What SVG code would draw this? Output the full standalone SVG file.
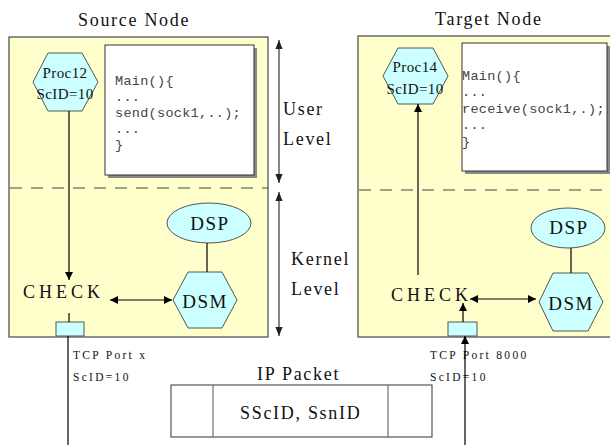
<svg xmlns="http://www.w3.org/2000/svg" width="610" height="445" viewBox="0 0 610 445">
  <defs>
    <marker id="arr" viewBox="0 0 10 10" refX="10" refY="5" markerWidth="8" markerHeight="8" markerUnits="userSpaceOnUse" orient="auto-start-reverse">
      <path d="M0,0 L10,5 L0,10 z" fill="#000"/>
    </marker>
    <marker id="arrGray" viewBox="0 0 10 10" refX="10" refY="5" markerWidth="9" markerHeight="9" markerUnits="userSpaceOnUse" orient="auto-start-reverse">
      <path d="M0,1 L10,5 L0,9 z" fill="#222"/>
    </marker>
  </defs>
  <style>
    .node { fill: #ffffcc; stroke: #555; stroke-width: 1.3; }
    .cyan { fill: #ccffff; stroke: #555; stroke-width: 1; }
    .code { fill: #fff; stroke: #333; stroke-width: 1; }
    .shadow { fill: #888; }
    .dash { stroke: #444; stroke-width: 1.2; stroke-dasharray: 12 9; fill: none; }
    .edge { stroke: #000; stroke-width: 1.2; fill: none; }
    .lvl { stroke: #444; stroke-width: 1.3; fill: none; }
    .serif { font-family: "Liberation Serif", "Times New Roman", serif; fill: #111; }
    .title { font-size: 18px; letter-spacing: 1.7px; }
    .proc { font-size: 15px; letter-spacing: 0.4px; text-anchor: middle; }
    .big { font-size: 19px; letter-spacing: 1.5px; text-anchor: middle; }
    .check { font-size: 18px; letter-spacing: 4px; }
    .small { font-size: 11.5px; letter-spacing: 2.3px; }
    .mono { font-family: "Liberation Mono", "Courier New", monospace; font-size: 13.5px; letter-spacing: 0.3px; fill: #444; }
  </style>

  <!-- headings -->
  <text class="serif title" x="78" y="26">Source Node</text>
  <text class="serif title" x="435" y="25">Target Node</text>

  <!-- source node -->
  <g id="source-node">
    <rect class="node" x="9" y="37" width="259" height="300"/>
    <line class="dash" x1="10" y1="188" x2="268" y2="188"/>
  </g>

  <!-- target node -->
  <g id="target-node">
    <rect class="node" x="358" y="36" width="260" height="301"/>
    <line class="dash" x1="359" y1="190" x2="610" y2="190"/>
  </g>

  <g id="proc12">
    <polygon class="cyan" points="48,53 82,53 98,82 82,111 48,111 33,82"/>
    <text class="serif proc" x="65" y="78">Proc12</text>
    <text class="serif proc" x="65" y="99">ScID=10</text>
  </g>

  <g id="proc14">
    <polygon class="cyan" points="398,48 433,48 448,76 433,104 398,104 383,76"/>
    <text class="serif proc" x="415" y="72">Proc14</text>
    <text class="serif proc" x="415" y="94">ScID=10</text>
  </g>

  <g id="source-code">
    <rect class="shadow" x="108" y="48" width="149" height="130"/>
    <rect class="code" x="105" y="45" width="149" height="130"/>
    <text class="mono" x="115" y="85">Main(){</text>
    <text class="mono" x="115" y="101">...</text>
    <text class="mono" x="115" y="117">send(sock1,..);</text>
    <text class="mono" x="115" y="133">...</text>
    <text class="mono" x="115" y="149">}</text>
  </g>

  <g id="target-code">
    <rect class="shadow" x="465" y="46" width="145" height="128"/>
    <rect class="code" x="462" y="43" width="145" height="128"/>
    <text class="mono" x="462" y="80">Main(){</text>
    <text class="mono" x="462" y="96">...</text>
    <text class="mono" x="462" y="113">receive(sock1,.);</text>
    <text class="mono" x="462" y="129">...</text>
    <text class="mono" x="462" y="146">}</text>
  </g>

  <g id="source-dsp">
    <ellipse class="cyan" cx="209" cy="223" rx="42" ry="20"/>
    <text class="serif big" x="210" y="230">DSP</text>
  </g>
  <g id="source-dsm">
    <polygon class="cyan" points="188,272 222,272 237,300 222,328 188,328 173,300"/>
    <text class="serif big" x="205" y="308">DSM</text>
  </g>
  <g id="target-dsp">
    <ellipse class="cyan" cx="568" cy="228" rx="37" ry="20"/>
    <text class="serif big" x="569" y="234">DSP</text>
  </g>
  <g id="target-dsm">
    <polygon class="cyan" points="553,273 588,273 603,302 588,331 553,331 539,302"/>
    <text class="serif big" x="571" y="310">DSM</text>
  </g>

  <g id="source-check">
    <text class="serif check" x="23" y="298">CHECK</text>
  </g>
  <g id="target-check">
    <text class="serif check" x="391" y="301">CHECK</text>
  </g>

  <g id="source-port">
    <rect class="cyan" x="56" y="322" width="28" height="14"/>
  </g>
  <g id="target-port">
    <rect class="cyan" x="448" y="322" width="29" height="14"/>
  </g>

  <!-- level labels -->
  <g id="levels">
    <line class="lvl" x1="279" y1="40" x2="279" y2="183" marker-start="url(#arrGray)" marker-end="url(#arrGray)"/>
    <line class="lvl" x1="279" y1="192" x2="279" y2="336" marker-start="url(#arrGray)" marker-end="url(#arrGray)"/>
    <text class="serif title" x="283" y="115">User</text>
    <text class="serif title" x="283" y="145">Level</text>
    <text class="serif title" x="291" y="265">Kernel</text>
    <text class="serif title" x="291" y="295">Level</text>
  </g>

  <!-- port labels -->
  <g id="port-labels">
    <text class="serif small" x="73" y="359">TCP Port x</text>
    <text class="serif small" x="73" y="381">ScID=10</text>
    <text class="serif small" x="430" y="359">TCP Port 8000</text>
    <text class="serif small" x="430" y="381">ScID=10</text>
  </g>

  <g id="ip-packet">
    <text class="serif title" x="257" y="380">IP Packet</text>
    <rect x="171" y="385" width="261" height="52" fill="#fff" stroke="#333" stroke-width="1"/>
    <line x1="213" y1="385" x2="213" y2="437" stroke="#555" stroke-width="1"/>
    <line x1="388" y1="385" x2="388" y2="437" stroke="#555" stroke-width="1"/>
    <text class="serif title" x="240" y="419">SScID, SsnID</text>
  </g>

  <!-- connectors -->
  <g id="connectors">
    <line class="edge" x1="69" y1="111" x2="69" y2="280" marker-end="url(#arr)"/>
    <line class="edge" x1="69" y1="313" x2="69" y2="322"/>
    <line class="edge" x1="68" y1="336" x2="68" y2="445"/>
    <line class="edge" x1="110" y1="300" x2="172" y2="300" marker-start="url(#arr)" marker-end="url(#arr)"/>
    <line class="edge" x1="207" y1="243" x2="207" y2="272"/>
    <line class="edge" x1="418" y1="275" x2="418" y2="104" marker-end="url(#arr)"/>
    <line class="edge" x1="463" y1="322" x2="463" y2="303" marker-end="url(#arr)"/>
    <line class="edge" x1="465" y1="445" x2="465" y2="336" marker-end="url(#arr)"/>
    <line class="edge" x1="470" y1="299" x2="536" y2="299" marker-start="url(#arr)" marker-end="url(#arr)"/>
    <line class="edge" x1="571" y1="248" x2="571" y2="273"/>
  </g>
</svg>
